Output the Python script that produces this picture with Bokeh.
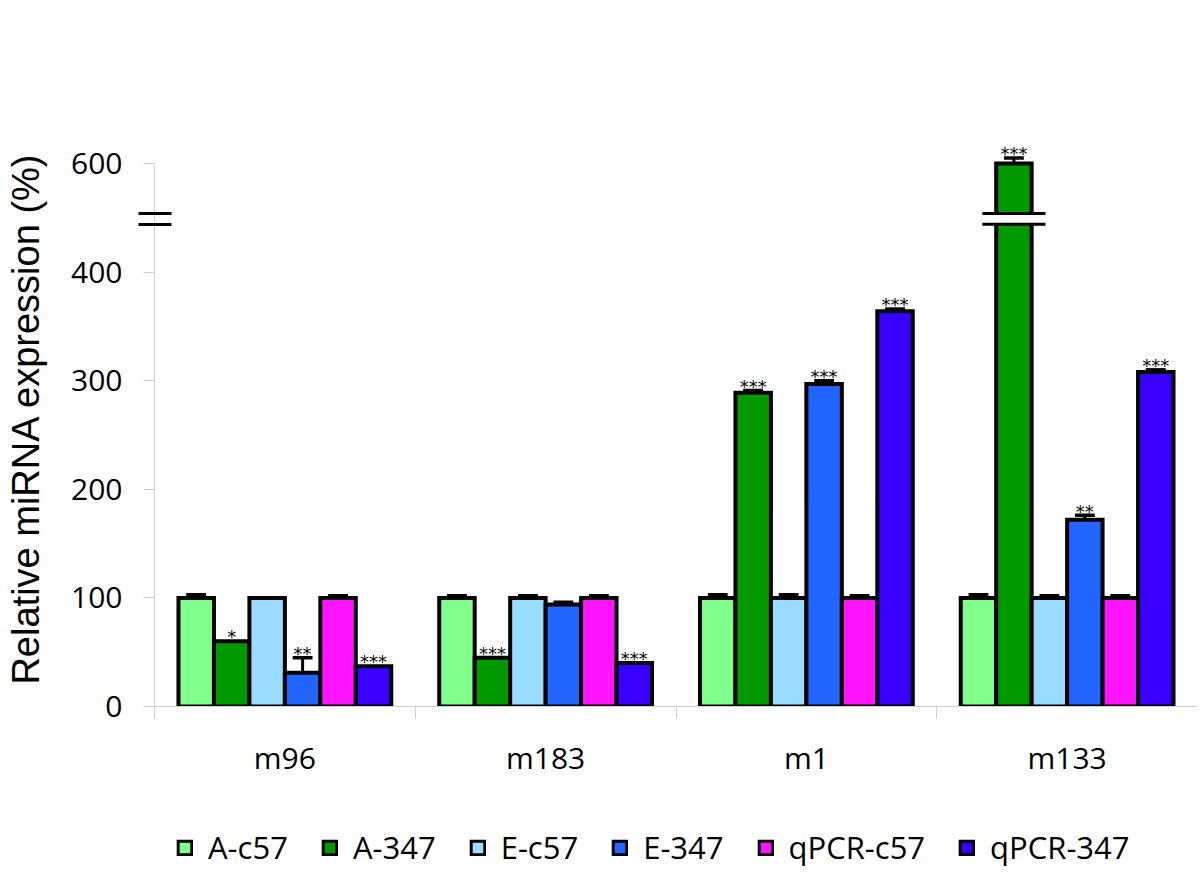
from bokeh.plotting import figure
from bokeh.layouts import column
from bokeh.models import Range1d, FixedTicker, LinearAxis, Legend, LegendItem, ColumnDataSource
from bokeh.core.properties import value
from bokeh.embed import file_html
from bokeh.resources import INLINE

# ---------------- data ----------------
groups = ["m96", "m183", "m1", "m133"]
series = ["A-c57", "A-347", "E-c57", "E-347", "qPCR-c57", "qPCR-347"]
colors = ["#80FF8C", "#009A00", "#9ADCFF", "#2266FF", "#FF14FF", "#3A00FF"]

A_c57 = [100, 100, 100, 100]
A_347 = [60, 45, 289, 600]
E_c57 = [100, 100, 100, 100]
E_347 = [31, 94, 297, 172]
qPCR_c57 = [100, 100, 100, 100]
qPCR_347 = [37, 40, 364, 308]

A_c57_err = [3, 2, 3, 3]
A_347_err = [0, 0, 2, 5]
E_c57_err = [0, 2, 3, 2]
E_347_err = [14, 2, 3, 4]
qPCR_c57_err = [2, 2, 2, 2]
qPCR_347_err = [0, 0, 2, 2]

A_c57_sig = ["", "", "", ""]
A_347_sig = ["*", "***", "***", "***"]
E_c57_sig = ["", "", "", ""]
E_347_sig = ["**", "", "***", "**"]
qPCR_c57_sig = ["", "", "", ""]
qPCR_347_sig = ["***", "***", "***", "***"]

y_ticks = [0, 100, 200, 300, 400, 500]
y_tick_labels = ["0", "100", "200", "300", "400", "600"]

values = [A_c57, A_347, E_c57, E_347, qPCR_c57, qPCR_347]
errors = [A_c57_err, A_347_err, E_c57_err, E_347_err, qPCR_c57_err, qPCR_347_err]
sigs = [A_c57_sig, A_347_sig, E_c57_sig, E_347_sig, qPCR_c57_sig, qPCR_347_sig]

# axis break: values above 400 are drawn shifted down by 100 (600 -> 500)
BREAK_SHIFT = 100
BREAK_LO, BREAK_HI = 444, 454


def disp(v):
    return v - BREAK_SHIFT if v > 450 else v


GRAY = "#CFCFCF"
TICK_FONT = "Open Sans"
W = 1197
H1 = 800
H2 = 73

p = figure(width=W, height=H1, x_range=Range1d(0, 4), y_range=Range1d(0, 530.4),
           output_backend="svg", toolbar_location=None,
           min_border_left=154, min_border_right=0, min_border_top=130, min_border_bottom=H1 - 706)
p.outline_line_color = None
p.xgrid.visible = False
p.ygrid.visible = False
p.background_fill_color = "white"

bw = 0.136
err_x, err_y0, err_y1 = [], [], []
star_x, star_y, star_t = [], [], []
break_x = []
for i, s in enumerate(series):
    xs = [g + 0.5 + (i - 2.5) * bw for g in range(len(groups))]
    tops = [disp(v) for v in values[i]]
    src = ColumnDataSource(dict(x=xs, top=tops))
    p.vbar(x="x", top="top", bottom=0, width=bw, source=src,
           fill_color=colors[i], line_color="black", line_width=4, line_join="miter")
    for x, t, e, sg, v in zip(xs, tops, errors[i], sigs[i], values[i]):
        if e > 0:
            err_x.append(x)
            err_y0.append(t)
            err_y1.append(t + e)
        if sg:
            star_x.append(x)
            star_y.append(t + e + 4)
            star_t.append(sg)
        if v > 450:
            break_x.append(x)

cap = 0.038
p.segment(x0=err_x, y0=err_y0, x1=err_x, y1=err_y1, line_color="black", line_width=3)
p.segment(x0=[x - cap for x in err_x], y0=err_y1, x1=[x + cap for x in err_x], y1=err_y1,
          line_color="black", line_width=3.5)

p.text(x=star_x, y=star_y, text=star_t, text_font=value("DejaVu Sans"), text_font_size="18px",
       text_align="center", text_baseline="alphabetic", text_color="black")

# break on the tall bar
bl = 0.121
p.quad(left=[x - bl for x in break_x], right=[x + bl for x in break_x],
       bottom=[BREAK_LO + 1] * len(break_x), top=[BREAK_HI - 1] * len(break_x),
       fill_color="white", line_color=None)
for yb in (BREAK_LO, BREAK_HI):
    p.segment(x0=[x - bl for x in break_x], y0=[yb] * len(break_x),
              x1=[x + bl for x in break_x], y1=[yb] * len(break_x),
              line_color="black", line_width=3)

# inner y axis: axis line, gray ticks (minor) and break marks (major)
ya = p.yaxis[0]
ya.ticker = FixedTicker(ticks=[BREAK_LO, BREAK_HI], minor_ticks=y_ticks)
ya.major_label_overrides = {BREAK_LO: "", BREAK_HI: ""}
ya.bounds = (0, 500)
ya.axis_line_color = GRAY
ya.major_tick_line_color = "black"
ya.major_tick_line_width = 3
ya.major_tick_in = 17
ya.major_tick_out = 16
ya.minor_tick_line_color = GRAY
ya.minor_tick_in = 0
ya.minor_tick_out = 11
ya.major_label_standoff = 0

# outer y axis: labels and title
ya2 = LinearAxis(ticker=FixedTicker(ticks=y_ticks, minor_ticks=[]),
                 major_label_overrides={t: l for t, l in zip(y_ticks, y_tick_labels)},
                 axis_line_color=None, major_tick_line_color=None, minor_tick_line_color=None,
                 major_tick_in=0, major_tick_out=0, minor_tick_in=0, minor_tick_out=0,
                 major_label_standoff=16,
                 major_label_text_font=TICK_FONT, major_label_text_font_size="30px",
                 major_label_text_color="black",
                 axis_label="Relative miRNA expression (%)",
                 axis_label_text_font="Liberation Sans", axis_label_text_font_size="38px",
                 axis_label_text_font_style="normal", axis_label_text_color="black",
                 axis_label_standoff=21)
p.add_layout(ya2, "left")

# x axis
xa = p.xaxis[0]
xa.ticker = FixedTicker(ticks=[g + 0.5 for g in range(len(groups))],
                        minor_ticks=list(range(len(groups) + 1)))
xa.major_label_overrides = {g + 0.5: name for g, name in enumerate(groups)}
xa.bounds = (0, len(groups))
xa.axis_line_color = GRAY
xa.major_tick_line_color = None
xa.major_tick_in = 0
xa.major_tick_out = 0
xa.minor_tick_line_color = GRAY
xa.minor_tick_in = 0
xa.minor_tick_out = 12
xa.major_label_standoff = 18
xa.major_label_text_font = TICK_FONT
xa.major_label_text_font_size = "30px"
xa.major_label_text_color = "black"

# ---------------- legend strip ----------------
p2 = figure(width=W, height=H2, x_range=Range1d(0, 1), y_range=Range1d(0, 1),
            x_axis_type=None, y_axis_type=None, output_backend="svg", toolbar_location=None,
            min_border=0)
p2.outline_line_color = None
p2.xgrid.visible = False
p2.ygrid.visible = False
swatches = []
for s, c in zip(series, colors):
    # one hidden swatch renderer per series; only its legend glyph is shown
    r = p2.vbar(x=[-1], top=[1], bottom=0, width=0.1, fill_color=c, line_color="black",
                line_width=3, line_join="miter")
    r.visible = False
    swatches.append(r)

legend = Legend(items=[LegendItem(label=s, renderers=[r]) for s, r in zip(series, swatches)],
                orientation="horizontal", location=(22, 5),
                glyph_width=17, glyph_height=17, label_standoff=15, spacing=33,
                padding=0, margin=0, border_line_color=None, background_fill_alpha=0,
                label_text_font="Open Sans", label_text_font_size="31px",
                label_text_color="black")
p2.add_layout(legend, "center")

open("out.html", "w").write(file_html(column(p, p2, spacing=0), INLINE))
